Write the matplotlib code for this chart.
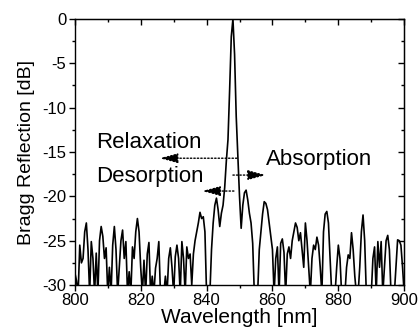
import matplotlib
matplotlib.use("Agg")
import matplotlib.pyplot as plt
import numpy as np
from matplotlib.ticker import MultipleLocator

plt.rcParams["font.family"] = ["Liberation Sans", "DejaVu Sans"]

# Bragg reflection spectrum, sampled every 0.5 nm from 800 to 900 nm
wavelength_start = 800.0
wavelength_step = 0.5
reflection_db = [
    -28.6, -29.5, -31, -25.5, -27.5, -27, -24, -23.0, -26, -31,
    -25.1, -27, -31, -26.4, -31, -25, -23.4, -24.5, -27, -25.8,
    -31, -28, -31, -25.5, -23.4, -26, -31, -28, -25, -23.8,
    -27, -25.1, -31, -28.5, -31, -25.7, -27, -24, -22.5, -24,
    -28, -31, -27.2, -31, -26.5, -25.2, -31, -29, -31, -28.1,
    -27, -25.1, -31, -30.5, -31, -29, -31, -27, -25.8, -28,
    -31, -26.8, -25.5, -27, -31, -25.1, -27, -31, -25.7, -27,
    -26.5, -30, -26.5, -25, -24, -23, -21.8, -22.5, -22.3, -24,
    -31, -31, -31, -26, -23, -21, -20.2, -21.5, -23.4, -21.9,
    -21, -19, -16, -13.6, -8, -2, 0, -4, -11, -15.5,
    -20, -23.6, -21, -19.6, -19.3, -20.4, -21.9, -23, -25.3, -31,
    -31, -31, -26, -24, -22, -20.6, -20.8, -21.5, -23, -24.6,
    -26, -31, -27, -25.7, -31, -25.3, -24.8, -26.3, -31, -26.5,
    -25.7, -27, -25, -24, -23, -23.5, -25, -24.1, -26, -28,
    -23, -25, -28, -31, -27, -25.5, -26, -24.6, -25.5, -28,
    -31, -24, -22, -21.7, -23, -27, -31, -31, -31, -28,
    -25.5, -27, -31, -31, -31, -28, -26.6, -27, -24.1, -26,
    -29, -31, -31, -28, -24, -22.1, -25, -31, -31, -31,
    -31, -27, -25.7, -31, -25.1, -28, -25.1, -31, -28, -25,
    -24.4, -26, -31, -31, -31, -28, -24.9, -25, -25.5, -28,
    -31,
]
wavelength = wavelength_start + wavelength_step * np.arange(len(reflection_db))

# annotations: label text positions, then dotted arrows (tail x -> head x at y)
labels = ["Relaxation", "Desorption", "Absorption"]
label_xy = [(806.5, -13.9), (806.5, -17.8), (858.0, -15.9)]
arrow_tail_x = [849.2, 848.3, 848.0]
arrow_head_x = [825.8, 838.7, 858.0]
arrow_y = [-15.7, -19.4, -17.6]

fig = plt.figure(figsize=(4.18, 3.33), dpi=100)
ax = fig.add_axes([0.179, 0.144, 0.788, 0.799])

ax.plot(wavelength, reflection_db, color="black", linewidth=1.2)

for label, (tx, ty), x0, x1, y in zip(labels, label_xy, arrow_tail_x, arrow_head_x, arrow_y):
    ax.text(tx, ty, label, fontsize=16, ha="left", va="center")
    ax.annotate(
        "",
        xy=(x1, y),
        xytext=(x0, y),
        arrowprops=dict(
            arrowstyle="-|>,head_length=1.1,head_width=0.3",
            mutation_scale=10,
            linestyle=(0, (1, 1.5)),
            color="black",
            linewidth=1.0,
            shrinkA=0,
            shrinkB=0,
        ),
    )

ax.set_xlim(800, 900)
ax.set_ylim(-30, 0)
ax.xaxis.set_major_locator(MultipleLocator(20))
ax.xaxis.set_minor_locator(MultipleLocator(10))
ax.yaxis.set_major_locator(MultipleLocator(5))
ax.yaxis.set_minor_locator(MultipleLocator(2.5))
ax.yaxis.set_major_formatter(lambda v, pos: f"{int(round(v))}")

ax.tick_params(axis="both", which="major", direction="out", length=4.5, width=1.0, labelsize=12, pad=1.5)
ax.tick_params(axis="both", which="minor", direction="out", length=2.5, width=1.0)

# mirrored ticks on top and right, pointing inward
top = ax.secondary_xaxis("top")
top.xaxis.set_major_locator(MultipleLocator(20))
top.xaxis.set_minor_locator(MultipleLocator(10))
top.tick_params(which="major", direction="in", length=4.5, width=1.0, labeltop=False)
top.tick_params(which="minor", direction="in", length=2.5, width=1.0)
right = ax.secondary_yaxis("right")
right.yaxis.set_major_locator(MultipleLocator(5))
right.yaxis.set_minor_locator(MultipleLocator(2.5))
right.tick_params(which="major", direction="in", length=4.5, width=1.0, labelright=False)
right.tick_params(which="minor", direction="in", length=2.5, width=1.0)

for spine in ax.spines.values():
    spine.set_linewidth(1.0)

ax.set_xlabel("Wavelength [nm]", fontsize=15, labelpad=0)
ax.set_ylabel("Bragg Reflection [dB]", fontsize=14, labelpad=5)

fig.savefig("out.png", dpi=100)
